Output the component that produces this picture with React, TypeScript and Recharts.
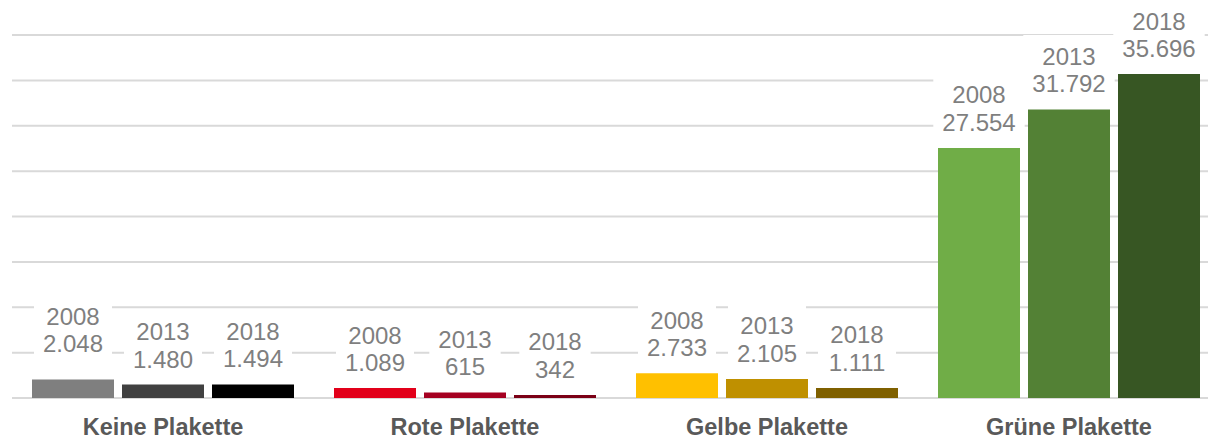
import React from "react";
import { BarChart, Bar, XAxis, YAxis, CartesianGrid, Cell, LabelList } from "recharts";

const categories = ["Keine Plakette", "Rote Plakette", "Gelbe Plakette", "Grüne Plakette"];
const years = ["2008", "2013", "2018"];
const values2008 = [2048, 1089, 2733, 27554];
const values2013 = [1480, 615, 2105, 31792];
const values2018 = [1494, 342, 1111, 35696];
const yTicks = [0, 5000, 10000, 15000, 20000, 25000, 30000, 35000, 40000];

// one colour per category and year (light -> dark)
const colors: Record<string, string[]> = {
  "2008": ["#7f7f7f", "#e2001a", "#ffc000", "#70ad47"],
  "2013": ["#404040", "#a50021", "#bf9000", "#538135"],
  "2018": ["#000000", "#7b0016", "#7f6000", "#375623"],
};

const data = categories.map((name, i) => ({
  name,
  "2008": values2008[i],
  "2013": values2013[i],
  "2018": values2018[i],
}));

const FONT = "'Liberation Sans', Arial, sans-serif";
const LABEL_SIZE = 24;

const fmt = (v: number) => String(v).replace(/\B(?=(\d{3})+(?!\d))/g, ".");
const textW = (s: string) =>
  s.split("").reduce((w, c) => w + (c === "." ? 0.278 : 0.556), 0) * LABEL_SIZE;

const makeLabel = (year: string) => (props: any) => {
  const { x, y, width, value, index } = props;
  const cx = Number(x) + Number(width) / 2;
  // the first label in the source sits a bit higher
  const lift = year === "2008" && index === 0 ? 10 : 0;
  const valueBase = Number(y) - 17 - lift;
  const yearBase = valueBase - 27.5;
  const txt = fmt(Number(value));
  const w = Math.max(textW(year), textW(txt)) + 18;
  return (
    <g>
      <rect x={cx - w / 2} y={yearBase - 30} width={w} height={66.5} fill="#ffffff" />
      <text x={cx} y={yearBase} textAnchor="middle" fontFamily={FONT} fontSize={LABEL_SIZE} fill="#7f7f7f">
        {year}
      </text>
      <text x={cx} y={valueBase} textAnchor="middle" fontFamily={FONT} fontSize={LABEL_SIZE} fill="#7f7f7f">
        {txt}
      </text>
    </g>
  );
};

const CategoryTick = (props: any) => {
  const { x, y, payload } = props;
  return (
    <text x={x} y={y + 37} textAnchor="middle" fontFamily={FONT} fontSize={23.5} fontWeight="bold" fill="#595959">
      {payload.value}
    </text>
  );
};

export default function App() {
  return (
    <div style={{ marginLeft: -8, marginTop: -8, width: 1216, height: 438, overflow: "hidden", background: "#fff" }}>
      <BarChart
        width={1220}
        height={438}
        data={data}
        margin={{ top: 35, right: 0, bottom: 0, left: 12 }}
        barCategoryGap={20}
        barGap={8}
      >
        <CartesianGrid vertical={false} stroke="#d9d9d9" strokeWidth={2} />
        <YAxis hide domain={[0, 40000]} ticks={yTicks} />
        <XAxis
          dataKey="name"
          height={40}
          axisLine={false}
          tickLine={false}
          tickSize={0}
          tickMargin={0}
          interval={0}
          tick={<CategoryTick />}
        />
        {years.map((yr) => (
          <Bar key={yr} dataKey={yr} isAnimationActive={false}>
            {categories.map((c, i) => (
              <Cell key={c} fill={colors[yr][i]} />
            ))}
            <LabelList dataKey={yr} content={makeLabel(yr)} />
          </Bar>
        ))}
      </BarChart>
    </div>
  );
}
